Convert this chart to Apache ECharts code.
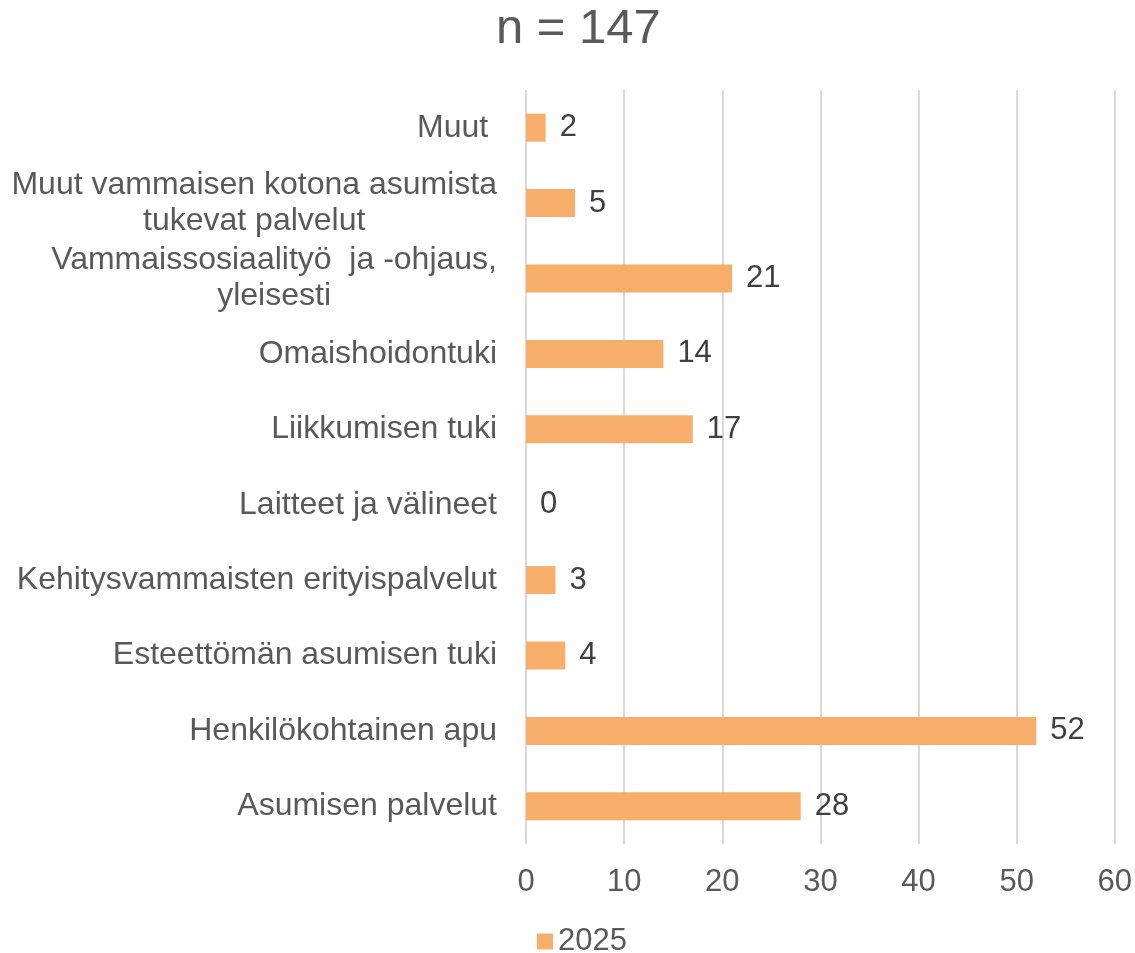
<!DOCTYPE html>
<html>
<head>
<meta charset="utf-8">
<script src="https://cdn.jsdelivr.net/npm/echarts@6/dist/echarts.min.js"></script>
<style>
html,body{margin:0;padding:0;background:#fff;}
#chart{width:1135px;height:953px;}
</style>
</head>
<body>
<div id="chart"></div>
<script>
const titleText = 'n = 147';
const seriesName = '2025';
const categories = [
  'Muut ',
  'Muut vammaisen kotona asumista\ntukevat palvelut',
  'Vammaissosiaalityö  ja -ohjaus,\nyleisesti',
  'Omaishoidontuki',
  'Liikkumisen tuki',
  'Laitteet ja välineet',
  'Kehitysvammaisten erityispalvelut',
  'Esteettömän asumisen tuki',
  'Henkilökohtainen apu',
  'Asumisen palvelut'
];
const values = [2, 5, 21, 14, 17, 0, 3, 4, 52, 28];
const xTicks = { min: 0, max: 60, interval: 10 };

const FONT = '"Liberation Sans", Arial, sans-serif';
const chart = echarts.init(document.getElementById('chart'));
chart.setOption({
  animation: false,
  backgroundColor: '#ffffff',
  textStyle: { fontFamily: FONT },
  title: {
    text: titleText,
    left: 496,
    top: 5,
    padding: 0,
    textStyle: { fontFamily: FONT, fontSize: 49, fontWeight: 'normal', color: '#595959' }
  },
  legend: {
    data: [seriesName],
    left: 537,
    top: 926,
    padding: 0,
    itemWidth: 16,
    itemHeight: 16,
    itemGap: 10,
    icon: 'rect',
    textStyle: { fontFamily: FONT, fontSize: 31, color: '#595959' }
  },
  grid: { left: 526, right: 20, top: 90, bottom: 109, containLabel: false },
  xAxis: {
    type: 'value',
    min: xTicks.min,
    max: xTicks.max,
    interval: xTicks.interval,
    axisLine: { show: false },
    axisTick: { show: false },
    splitLine: { show: true, lineStyle: { color: '#d9d9d9', width: 2 } },
    axisLabel: { fontFamily: FONT, fontSize: 31, color: '#595959', margin: 23 }
  },
  yAxis: {
    type: 'category',
    inverse: true,
    data: categories,
    axisLine: { show: false },
    axisTick: { show: false },
    splitLine: { show: false },
    axisLabel: {
      fontFamily: FONT,
      fontSize: 32,
      color: '#595959',
      margin: 29,
      align: 'right',
      lineHeight: 36,
      formatter: function (v) {
        if (v.indexOf('\n') < 0) return v;
        return v.split('\n').map(function (l) { return '{c|' + l + '}'; }).join('\n');
      },
      rich: {
        c: { fontFamily: FONT, fontSize: 32, color: '#595959', align: 'center', lineHeight: 36 }
      }
    }
  },
  series: [{
    name: seriesName,
    type: 'bar',
    data: values,
    barWidth: 28,
    itemStyle: { color: '#F8AE6B' },
    label: {
      show: true,
      position: 'right',
      distance: 14,
      fontFamily: FONT,
      fontSize: 31,
      color: '#404040'
    }
  }]
});
</script>
</body>
</html>
